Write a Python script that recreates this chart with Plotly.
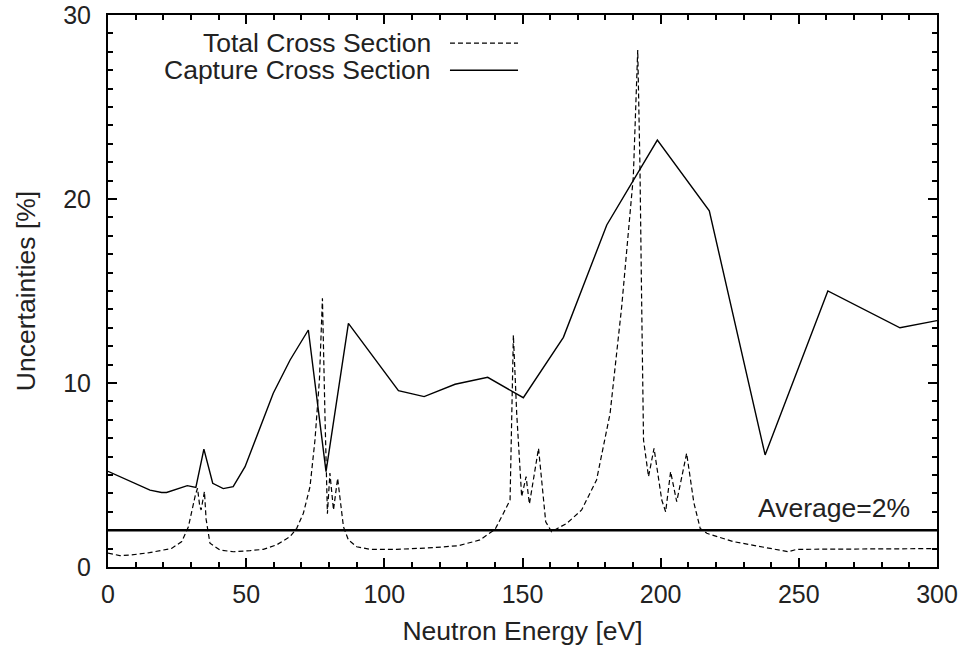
import plotly.graph_objects as go

# Total cross section uncertainty (dashed)
total_energy = [0, 2, 4.3, 8, 15, 23, 26.7, 29.1, 30.6, 31.6, 32.4, 33.2, 33.7, 34.2, 34.9,
                35.5, 36.2, 36.9, 40.5, 45.4, 51.4, 56.2, 61, 65.9, 68.3, 70.7, 73.1, 74.9,
                76.5, 77.6, 78.5, 79.4, 80.3, 81.6, 83.1, 85.2, 87, 90, 94.8, 104.5, 117.7,
                126.8, 134.6, 140.1, 143.1, 145.5, 146.7, 147.9, 149.7, 151.3, 152.5, 155.8,
                158.4, 160.5, 166, 171.4, 176.8, 181.7, 185.9, 188, 190.1, 191.7, 192.5,
                193.1, 193.8, 195.6, 197.6, 200.4, 201.8, 203.6, 205.8, 209.4, 212, 214.3,
                216.7, 226.3, 237.2, 246.2, 249.2, 300]
total_unc = [0.75, 0.68, 0.62, 0.65, 0.78, 1.01, 1.38, 2.19, 3.28, 3.9, 4.28, 3.3, 3.1, 3.6, 4.1,
             2.6, 1.8, 1.29, 0.92, 0.83, 0.89, 0.96, 1.2, 1.65, 2.1, 2.92, 4.36, 6.9,
             10.16, 14.6, 8.35, 2.9, 5.1, 3.1, 4.82, 2.19, 1.47, 1.1, 0.96, 0.96, 1.05,
             1.16, 1.47, 2.05, 2.92, 3.64, 12.6, 8.35, 3.82, 4.91, 3.42, 6.45,
             2.46, 1.92, 2.37, 3.1, 4.73, 8.35, 14.15, 17.5, 21.2, 28.1, 21.8,
             14.6, 6.9, 4.91, 6.45, 3.64, 3.0, 5.18, 3.55, 6.18, 3.5, 2.1,
             1.83, 1.38, 1.1, 0.83, 0.96, 1.0]

# Capture cross section uncertainty (solid)
capture_energy = [0, 15.2, 19.4, 21.2, 28.7, 31.8, 34.7, 37.9, 41.7, 45.3, 49.6, 59.8, 65.9,
                  72.5, 78.9, 87.0, 105.1, 114.4, 125.6, 137.4, 150.3, 164.8, 180.5, 198.8,
                  217.6, 237.8, 260.5, 286.6, 300]
capture_unc = [5.2, 4.18, 4.05, 4.05, 4.42, 4.33, 6.41, 4.55, 4.26, 4.37, 5.45, 9.44, 11.25,
               12.88, 5.18, 13.24, 9.58, 9.26, 9.93, 10.31, 9.2, 12.48, 18.59, 23.2,
               19.36, 6.09, 15.0, 13.0, 13.39]

average_x = [0, 300]
average_y = [2, 2]

x_ticks = [0, 50, 100, 150, 200, 250, 300]
y_ticks = [0, 10, 20, 30]

FONT = "Liberation Sans, Arial, Helvetica, sans-serif"
TXT = "#222"

fig = go.Figure()
fig.add_trace(go.Scatter(x=total_energy, y=total_unc, mode="lines",
                         line=dict(color="black", width=1.2, dash="5px,3px"),
                         name="Total Cross Section", showlegend=False))
fig.add_trace(go.Scatter(x=capture_energy, y=capture_unc, mode="lines",
                         line=dict(color="black", width=1.4),
                         name="Capture Cross Section", showlegend=False))
fig.add_trace(go.Scatter(x=average_x, y=average_y, mode="lines",
                         line=dict(color="black", width=2.5),
                         name="Average", showlegend=False))

# legend (text left of sample, gnuplot style)
legend_items = [("Total Cross Section", "5px,3px", 1.2, 0.949),
                ("Capture Cross Section", "solid", 1.4, 0.900)]
for label, dash, w, yp in legend_items:
    fig.add_annotation(x=0.392, y=yp, xref="paper", yref="paper", text=label,
                       showarrow=False, xanchor="right", yanchor="middle",
                       font=dict(size=26.5, color=TXT, family=FONT))
    fig.add_shape(type="line", xref="paper", yref="paper", x0=0.4125, x1=0.4946,
                  y0=yp, y1=yp, line=dict(color="black", width=w, dash=dash))

fig.add_annotation(x=291, y=3.2, text="Average=2%", showarrow=False,
                   xanchor="right", yanchor="middle",
                   font=dict(size=26.5, color=TXT, family=FONT))

axis_common = dict(showline=True, linecolor="black", linewidth=2, mirror="ticks",
                   ticks="inside", ticklen=9, tickwidth=2, tickcolor="black",
                   showgrid=False, zeroline=False,
                   tickfont=dict(size=25, color=TXT, family=FONT))

fig.update_xaxes(range=[0, 300], tickvals=x_ticks, ticktext=[str(v) for v in x_ticks],
                 minor=dict(ticks="inside", ticklen=5, tickwidth=1.5, tickcolor="black", dtick=10,
                            showgrid=False),
                 title=dict(text="Neutron Energy [eV]", font=dict(size=26.5, color=TXT, family=FONT),
                            standoff=14),
                 ticklabelstandoff=4,
                 **axis_common)
fig.update_yaxes(range=[0, 30], tickvals=y_ticks, ticktext=[str(v) for v in y_ticks],
                 minor=dict(ticks="inside", ticklen=5, tickwidth=1.5, tickcolor="black", dtick=1,
                            showgrid=False),
                 title=dict(text="Uncertainties [%]", font=dict(size=26.5, color=TXT, family=FONT),
                            standoff=20),
                 ticklabelstandoff=10,
                 **axis_common)

fig.update_layout(width=971, height=657, margin=dict(l=108, r=34, t=15, b=90, autoexpand=False),
                  plot_bgcolor="white", paper_bgcolor="white",
                  font=dict(family=FONT, color=TXT))

fig.write_html("out.html", include_plotlyjs=True, config={"displayModeBar": False})
